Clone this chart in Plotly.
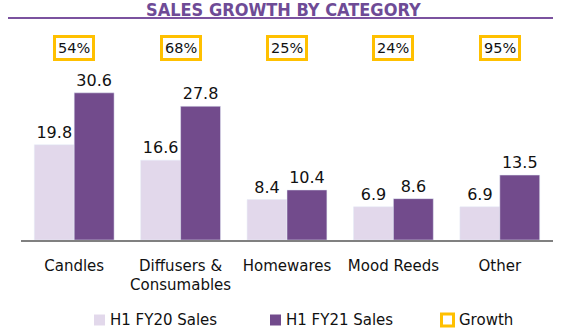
import plotly.graph_objects as go

categories = ["Candles", "Diffusers &<br>Consumables", "Homewares", "Mood Reeds", "Other"]
fy20_sales = [19.8, 16.6, 8.4, 6.9, 6.9]
fy21_sales = [30.6, 27.8, 10.4, 8.6, 13.5]
growth_labels = ["54%", "68%", "25%", "24%", "95%"]

LIGHT = "#E2D8EB"
DARK = "#724B8C"
GOLD = "#FFC000"
TITLE_C = "#6E4B96"
FONT = "DejaVu Sans"

W, H = 568, 335
ML, MR, MT, MB = 21, 15, 30, 95
PH = H - MT - MB


def py(pix):
    return (H - MB - pix) / PH


def px(pix):
    return (pix - ML) / (W - ML - MR)


fig = go.Figure()
fig.add_bar(x=categories, y=fy20_sales, name="H1 FY20 Sales", marker_color=LIGHT,
            text=[f"{v:.1f}" for v in fy20_sales], textposition="outside",
            textfont=dict(size=16, color="#111", family=FONT), cliponaxis=False)
fig.add_bar(x=categories, y=fy21_sales, name="H1 FY21 Sales", marker_color=DARK,
            text=[f"{v:.1f}" for v in fy21_sales], textposition="outside",
            textfont=dict(size=16, color="#111", family=FONT), cliponaxis=False)

annotations = []
for c, g in zip(categories, growth_labels):
    annotations.append(dict(x=c, xref="x", y=py(47.5), yref="paper", text=g, showarrow=False,
                            font=dict(size=14.5, color="#111", family=FONT),
                            bordercolor=GOLD, borderwidth=3, borderpad=2, bgcolor="white",
                            xanchor="center", yanchor="middle"))

annotations.append(dict(x=px(283), xref="paper", y=py(21), yref="paper",
                        text="<b>SALES GROWTH BY CATEGORY</b>", showarrow=False,
                        font=dict(size=18, color=TITLE_C, family="DejaVu Sans Condensed, DejaVu Sans"),
                        xanchor="center", yanchor="bottom", borderpad=0))

shapes = [dict(type="line", xref="paper", yref="paper", x0=px(8), x1=px(553), y0=py(18), y1=py(18),
               line=dict(color="#7B529F", width=2))]

# custom legend
leg_y = 320
legend_items = [(94, LIGHT, "fill", "H1 FY20 Sales"), (270, DARK, "fill", "H1 FY21 Sales"),
                (440, GOLD, "box", "Growth")]
for x0, col, kind, label in legend_items:
    if kind == "fill":
        shapes.append(dict(type="rect", xref="paper", yref="paper", x0=px(x0), x1=px(x0 + 11),
                           y0=py(leg_y + 5.5), y1=py(leg_y - 5.5), fillcolor=col, line=dict(width=0)))
        tx = x0 + 14
    else:
        shapes.append(dict(type="rect", xref="paper", yref="paper", x0=px(x0 + 1.5), x1=px(x0 + 13.5),
                           y0=py(leg_y + 6), y1=py(leg_y - 6), fillcolor="white", line=dict(color=col, width=3)))
        tx = x0 + 17
    annotations.append(dict(x=px(tx), xref="paper", y=py(leg_y), yref="paper", text=label,
                            showarrow=False, font=dict(size=15, color="#111", family=FONT),
                            xanchor="left", yanchor="middle"))

fig.update_layout(
    width=W, height=H, margin=dict(l=ML, r=MR, t=MT, b=MB),
    paper_bgcolor="white", plot_bgcolor="white",
    barmode="group", bargap=0.25, bargroupgap=0,
    showlegend=False,
    annotations=annotations, shapes=shapes,
    font=dict(family=FONT, size=15, color="#111"),
    xaxis=dict(showline=True, linecolor="#808080", linewidth=1.5, ticks="", showgrid=False,
               tickfont=dict(size=15, family=FONT, color="#111"), ticklabelstandoff=11),
    yaxis=dict(visible=False, range=[0, 43.66], showgrid=False),
)

fig.write_html("out.html")
